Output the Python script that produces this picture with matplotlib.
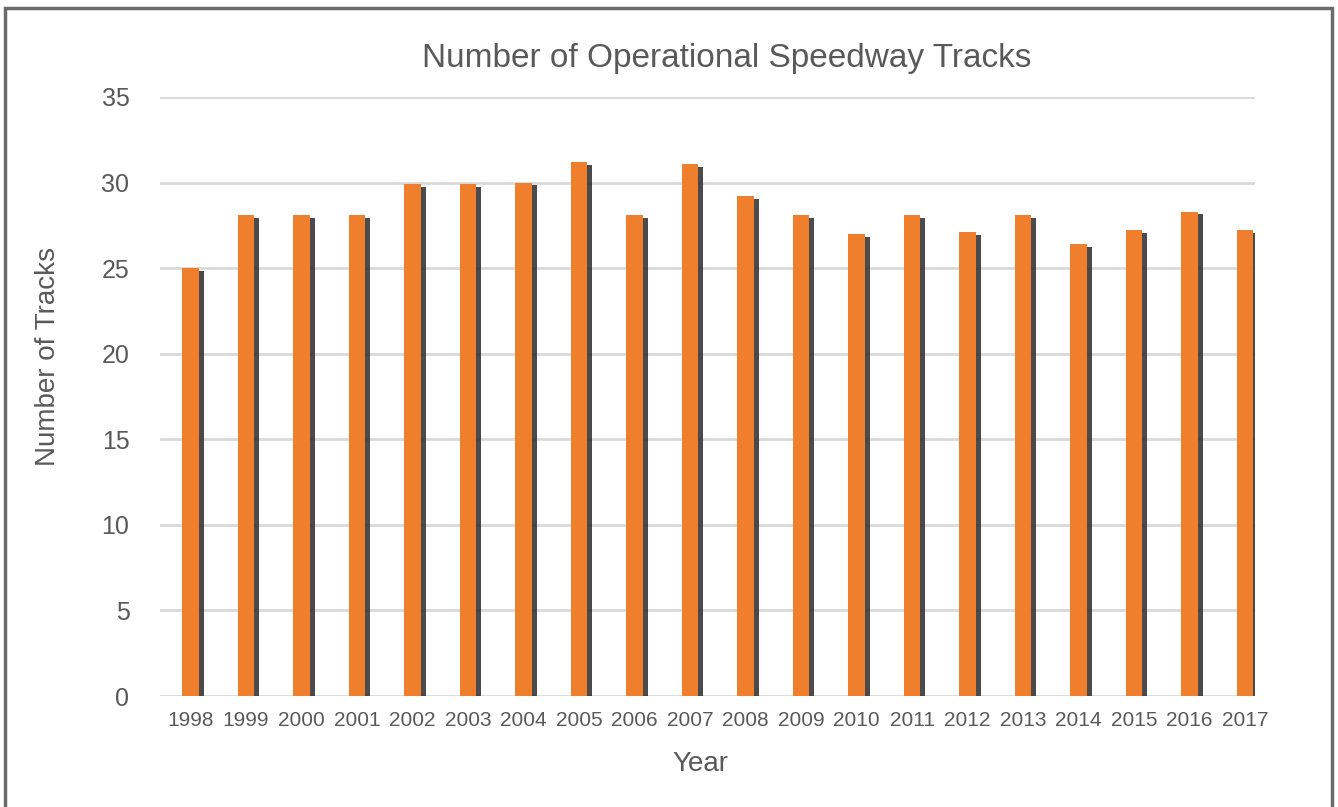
import matplotlib
matplotlib.use("Agg")
import matplotlib.pyplot as plt
import matplotlib.patheffects as pe
from matplotlib.patches import Rectangle
import numpy as np

plt.rcParams['font.family'] = ['Liberation Sans', 'DejaVu Sans']

years = ["1998", "1999", "2000", "2001", "2002", "2003", "2004", "2005", "2006", "2007",
         "2008", "2009", "2010", "2011", "2012", "2013", "2014", "2015", "2016", "2017"]
tracks = [25.0, 28.1, 28.1, 28.1, 29.9, 29.9, 30.0, 31.2, 28.1, 31.1,
          29.2, 28.1, 27.0, 28.1, 27.1, 28.1, 26.4, 27.2, 28.3, 27.2]
yticks = [0, 5, 10, 15, 20, 25, 30, 35]

text_color = "#595959"
bar_color = "#EF7F2C"
W, H = 1338, 807

fig = plt.figure(figsize=(W / 100, H / 100), dpi=100)
ax = fig.add_axes([160 / W, 1 - 696 / H, 1095 / W, 599 / H])

x = np.arange(len(years))
bars = ax.bar(x, tracks, width=0.3, color=bar_color, zorder=3)
for b in bars:
    b.set_path_effects([pe.SimplePatchShadow(offset=(3.5, -2), shadow_rgbFace="#2b2b2b", alpha=0.85),
                        pe.Normal()])

ax.set_xlim(-0.55, 19.18)
ax.set_ylim(0, 35)
ax.set_yticks(yticks)
ax.set_xticks(x)
ax.set_xticklabels(years)
ax.grid(axis="y", color="#d9d9d9", linewidth=2, zorder=0)
ax.set_axisbelow(True)
for s in ax.spines.values():
    s.set_visible(False)
ax.tick_params(axis="both", length=0, colors=text_color)
ax.tick_params(axis="y", labelsize=18, pad=22)
ax.tick_params(axis="x", labelsize=15, pad=11)

fig.text(727 / W, 1 - 67 / H, "Number of Operational Speedway Tracks", fontsize=24,
         color=text_color, ha="center", va="baseline")
fig.text(700 / W, 1 - 771 / H, "Year", fontsize=20, color=text_color,
         ha="center", va="baseline")
fig.text(55 / W, 1 - 357 / H, "Number of Tracks", fontsize=20, color=text_color,
         rotation=90, rotation_mode="anchor", ha="center", va="baseline")

# grey frame round the picture (bottom edge falls off the image)
fig.patches.append(Rectangle((5 / W, -0.02), 1327 / W, 1.02 - 8 / H,
                             transform=fig.transFigure, fill=False,
                             edgecolor="#6b6b6b", linewidth=2.5))

fig.savefig("out.png", dpi=100, facecolor="white")
